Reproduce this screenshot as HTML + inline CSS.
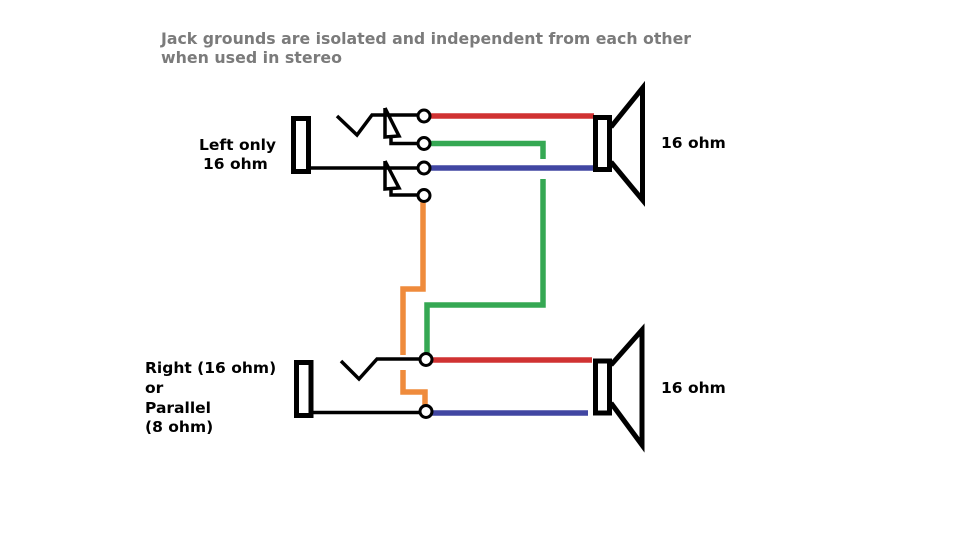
<!DOCTYPE html>
<html>
<head>
<meta charset="utf-8">
<style>
  html,body{margin:0;padding:0;background:#fff;}
  svg{display:block;}
  .lbl{font-family:"DejaVu Sans","Liberation Sans",sans-serif;font-weight:bold;font-size:15.5px;fill:#000;}
  .ttl{font-family:"DejaVu Sans","Liberation Sans",sans-serif;font-weight:bold;font-size:15.7px;fill:#7b7b7b;}
</style>
</head>
<body>
<svg width="966" height="544" viewBox="0 0 966 544" xmlns="http://www.w3.org/2000/svg">
  <rect width="966" height="544" fill="#fff"/>

  <!-- Title -->
  <text class="ttl" x="161" y="44" textLength="530" lengthAdjust="spacingAndGlyphs">Jack grounds are isolated and independent from each other</text>
  <text class="ttl" x="161" y="63" textLength="181" lengthAdjust="spacingAndGlyphs">when used in stereo</text>

  <!-- Labels -->
  <text class="lbl" x="199" y="150">Left only</text>
  <text class="lbl" x="203" y="169">16 ohm</text>
  <text class="lbl" x="661" y="148">16 ohm</text>
  <text class="lbl" x="661" y="393">16 ohm</text>
  <text class="lbl" x="145" y="373">Right (16 ohm)</text>
  <text class="lbl" x="145" y="393">or</text>
  <text class="lbl" x="145" y="413">Parallel</text>
  <text class="lbl" x="145" y="432">(8 ohm)</text>

  <!-- Colored wires -->
  <g fill="none" stroke-width="5.5" stroke-linecap="butt" stroke-linejoin="miter">
    <line x1="430" y1="116" x2="594" y2="116" stroke="#d03232"/>
    <line x1="430" y1="168" x2="594" y2="168" stroke="#4146a2"/>
    <polyline points="430,143.5 543,143.5 543,159" stroke="#35a853"/>
    <polyline points="543,179 543,305 427,305 427,353" stroke="#35a853"/>
    <polyline points="423,202 423,289 403,289 403,355" stroke="#ef8b3c"/>
    <polyline points="403,370 403,392 425,392 425,406" stroke="#ef8b3c"/>
    <line x1="432" y1="360" x2="592" y2="360" stroke="#d03232"/>
    <line x1="432" y1="413" x2="588" y2="413" stroke="#4146a2"/>
  </g>

  <!-- Upper jack -->
  <g fill="none" stroke="#000" stroke-width="3.5" stroke-linejoin="miter">
    <rect x="293.5" y="118.5" width="15" height="53" stroke-width="5"/>
    <polyline points="337,116 357,135 372,115 418,115"/>
    <polyline points="385,108 385,137 399,136 385,108"/>
    <polyline points="391,137 391,143.5 418,143.5"/>
    <line x1="310" y1="168" x2="418" y2="168"/>
    <polyline points="385,161 385,189 399,188 385,161"/>
    <polyline points="391,189 391,195 418,195"/>
    <circle cx="424" cy="116" r="6" fill="#fff" stroke-width="3"/>
    <circle cx="424" cy="143.5" r="6" fill="#fff" stroke-width="3"/>
    <circle cx="424" cy="168" r="6" fill="#fff" stroke-width="3"/>
    <circle cx="424" cy="195.5" r="6" fill="#fff" stroke-width="3"/>
  </g>

  <!-- Lower jack -->
  <g fill="none" stroke="#000" stroke-width="3.5" stroke-linejoin="miter">
    <rect x="296.5" y="362.5" width="14.5" height="53" stroke-width="5"/>
    <polyline points="341,361 359,379 377,359 420,359"/>
    <line x1="312" y1="412.5" x2="420" y2="412.5"/>
    <circle cx="426" cy="359.5" r="6" fill="#fff" stroke-width="3"/>
    <circle cx="426" cy="411.5" r="6" fill="#fff" stroke-width="3"/>
  </g>

  <!-- Speakers -->
  <g fill="none" stroke="#000" stroke-width="5" stroke-linejoin="miter">
    <rect x="595.5" y="117.5" width="14" height="52"/>
    <polyline points="611,127 642.5,88 642.5,200 611,162"/>
    <rect x="595.5" y="361" width="14" height="52"/>
    <polyline points="611,365 642,330 642,445 611,403"/>
  </g>
</svg>
</body>
</html>
